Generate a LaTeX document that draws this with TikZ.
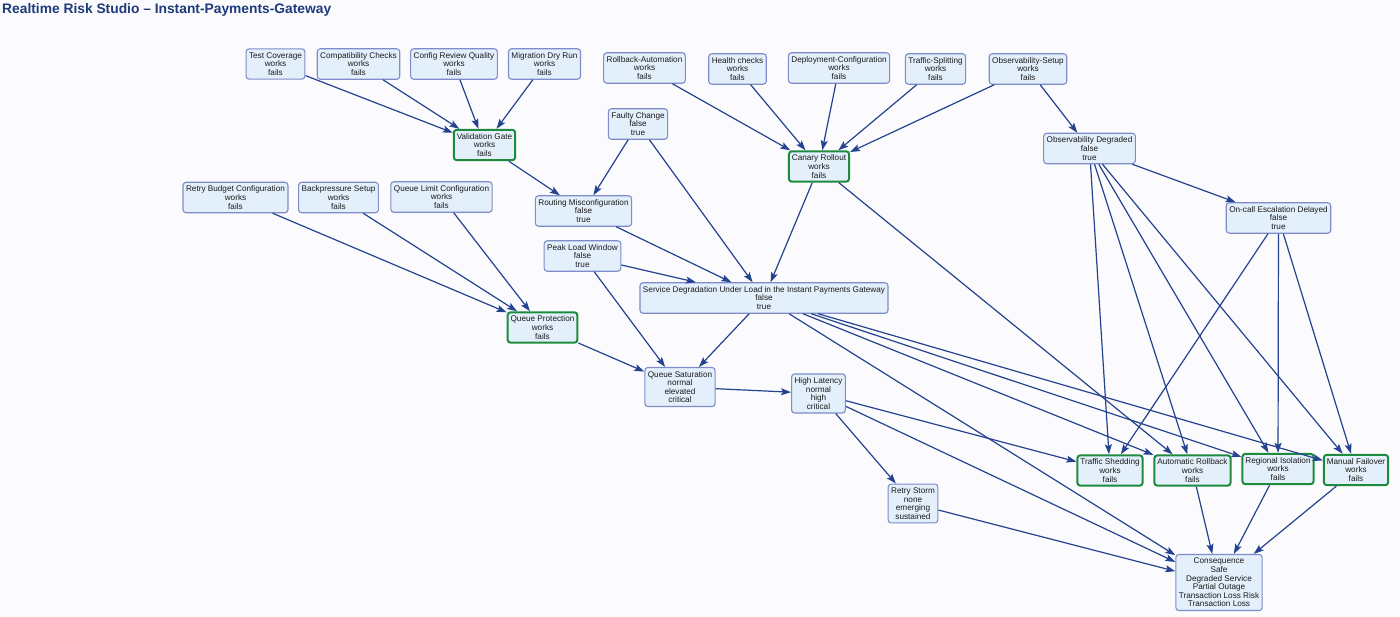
\documentclass[tikz,border=0pt]{standalone}
\usepackage{fontspec}
\setmainfont{Liberation Sans}
\usetikzlibrary{arrows.meta}
\definecolor{bg}{HTML}{FBFBFE}
\definecolor{nodefill}{HTML}{E3F0FC}
\definecolor{nodeborder}{HTML}{7F8CC8}
\definecolor{gateborder}{HTML}{1E8A3E}
\definecolor{edgecol}{HTML}{24428F}
\definecolor{titlecol}{HTML}{1F3A7A}
\definecolor{txt}{HTML}{1A1A1A}
\begin{document}
\begin{tikzpicture}[x=1pt,y=-1pt,
  box/.style={draw=nodeborder, fill=nodefill, line width=1.1pt, rounded corners=3pt, align=center,
    font=\fontsize{8.2}{8.6}\selectfont, text=txt, inner xsep=3pt, inner ysep=3.6pt},
  gate/.style={box, draw=gateborder, line width=2pt},
  edge/.style={draw=edgecol, line width=1.2pt, -{Stealth[length=10pt,width=7pt,inset=2pt]}}]
\fill[bg] (0,0) rectangle (1400,617);
\useasboundingbox (0,0) rectangle (1400,617);
\node[anchor=west, font=\bfseries\fontsize{13.8}{16}\selectfont, text=titlecol, inner sep=0] (title) at (2,10) {Realtime Risk Studio – Instant-Payments-Gateway};

% top row left
\node[box] (tc) at (275.5,64) {Test Coverage\\works\\fails};
\node[box] (cc) at (358.5,64) {Compatibility Checks\\works\\fails};
\node[box] (crq) at (454,64) {Config Review Quality\\works\\fails};
\node[box] (mdr) at (544.5,64) {Migration Dry Run\\works\\fails};
% top row right
\node[box] (ra) at (644.5,68) {Rollback-Automation\\works\\fails};
\node[box] (hc) at (737.5,69) {Health checks\\works\\fails};
\node[box] (dc) at (839,68) {Deployment-Configuration\\works\\fails};
\node[box] (ts) at (935.5,69) {Traffic-Splitting\\works\\fails};
\node[box] (os) at (1028,69) {Observability-Setup\\works\\fails};

\node[gate] (vg) at (484.5,145) {Validation Gate\\works\\fails};
\node[box] (fc) at (638,124) {Faulty Change\\false\\true};
\node[gate] (cr) at (819,166.5) {Canary Rollout\\works\\fails};
\node[box] (od) at (1089.5,148.5) {Observability Degraded\\false\\true};
\node[box] (oc) at (1278.5,218) {On-call Escalation Delayed\\false\\true};

\node[box] (rbc) at (235.5,197.5) {Retry Budget Configuration\\works\\fails};
\node[box] (bs) at (338.5,197.5) {Backpressure Setup\\works\\fails};
\node[box] (qlc) at (441.5,197) {Queue Limit Configuration\\works\\fails};
\node[box] (rm) at (583.5,211) {Routing Misconfiguration\\false\\true};

\node[box] (plw) at (582.5,256) {Peak Load Window\\false\\true};
\node[box] (sd) at (764,298) {Service Degradation Under Load in the Instant Payments Gateway\\false\\true};
\node[gate] (qp) at (542.5,327.5) {Queue Protection\\works\\fails};
\node[box] (qs) at (680,387) {Queue Saturation\\normal\\elevated\\critical};
\node[box] (hl) at (818.5,393.5) {High Latency\\normal\\high\\critical};
\node[box] (rs) at (913,503.5) {Retry Storm\\none\\emerging\\sustained};

\node[gate] (tsh) at (1110,470.5) {Traffic Shedding\\works\\fails};
\node[gate] (ar) at (1192.5,470.5) {Automatic Rollback\\works\\fails};
\node[gate] (ri) at (1278,469) {Regional Isolation\\works\\fails};
\node[gate] (mf) at (1356,470) {Manual Failover\\works\\fails};

\node[box] (cons) at (1219,582.5) {Consequence\\Safe\\Degraded Service\\Partial Outage\\Transaction Loss Risk\\Transaction Loss};

% edges
\draw[edge] (tc) -- (vg);
\draw[edge] (cc) -- (vg);
\draw[edge] (crq) -- (vg);
\draw[edge] (mdr) -- (vg);
\draw[edge] (vg) -- (rm);
\draw[edge] (fc) -- (rm);
\draw[edge] (fc) -- (sd);
\draw[edge] (rm) -- (sd);
\draw[edge] (plw) -- (sd);
\draw[edge] (plw) -- (qs);
\draw[edge] (cr) -- (sd);
\draw[edge] (ra) -- (cr);
\draw[edge] (hc) -- (cr);
\draw[edge] (dc) -- (cr);
\draw[edge] (ts) -- (cr);
\draw[edge] (os) -- (cr);
\draw[edge] (os) -- (od);
\draw[edge] (cr) -- (ar);
\draw[edge] (rbc) -- (qp);
\draw[edge] (bs) -- (qp);
\draw[edge] (qlc) -- (qp);
\draw[edge] (qp) -- (qs);
\draw[edge] (sd) -- (qs);
\draw[edge] (qs) -- (hl);
\draw[edge] (hl) -- (tsh);
\draw[edge] (hl) -- (rs);
\draw[edge] (hl) -- (cons);
\draw[edge] (rs) -- (cons);
\draw[edge] (sd) -- (cons);
\draw[edge] (sd) -- (ar);
\draw[edge] (sd) -- (ri);
\draw[edge] (sd) -- (mf);
\draw[edge] (od) -- (oc);
\draw[edge] (od) -- (tsh);
\draw[edge] (od) -- (ar);
\draw[edge] (od) -- (ri);
\draw[edge] (od) -- (mf);
\draw[edge] (oc) -- (tsh);
\draw[edge] (oc) -- (ri);
\draw[edge] (oc) -- (mf);
\draw[edge] (ar) -- (cons);
\draw[edge] (ri) -- (cons);
\draw[edge] (mf) -- (cons);
\end{tikzpicture}
\end{document}
